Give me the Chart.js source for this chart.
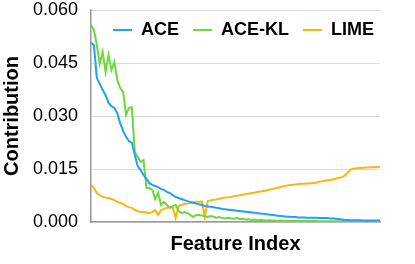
<!DOCTYPE html>
<html>
<head>
<meta charset="utf-8">
<script src="https://cdn.jsdelivr.net/npm/chart.js@4/dist/chart.umd.min.js"></script>
<style>
  html, body { margin: 0; padding: 0; background: #fff; }
  #wrap { width: 415px; height: 264px; position: relative; }
</style>
</head>
<body>
<div id="wrap"><canvas id="chart"></canvas></div>
<script>
const FEATURE_COUNT = 100;
const featureIndex = Array.from({ length: FEATURE_COUNT }, (_, i) => i + 1);

const yTicks = [0, 0.015, 0.03, 0.045, 0.06];

const ace = [
    0.0507, 0.0501, 0.0408, 0.0391, 0.0374, 0.0359, 0.0337, 0.0328, 0.0323, 0.0308,
    0.0280, 0.0258, 0.0241, 0.0229, 0.0224, 0.0190, 0.0158, 0.0147, 0.0133, 0.0122,
    0.0110, 0.0105, 0.0102, 0.0099, 0.0093, 0.0091, 0.0085, 0.0082, 0.0076, 0.0071,
    0.0068, 0.0065, 0.0062, 0.0059, 0.0057, 0.0055, 0.0052, 0.0050, 0.0048, 0.0045,
    0.0044, 0.0043, 0.0042, 0.0040, 0.0039, 0.0037, 0.0036, 0.0035, 0.0034, 0.0033,
    0.0032, 0.0031, 0.0030, 0.0029, 0.0028, 0.0027, 0.0026, 0.0025, 0.0024, 0.0023,
    0.0022, 0.0021, 0.0020, 0.0019, 0.0018, 0.0017, 0.0016, 0.0015, 0.0015, 0.0014,
    0.0014, 0.0013, 0.0013, 0.0013, 0.0012, 0.0012, 0.0012, 0.0012, 0.0011, 0.0011,
    0.0011, 0.0011, 0.0010, 0.0010, 0.0009, 0.0008, 0.0007, 0.0006, 0.0006, 0.0005,
    0.0005, 0.0005, 0.0005, 0.0004, 0.0004, 0.0004, 0.0004, 0.0004, 0.0004, 0.0004
];

const aceKl = [
    0.0558, 0.0543, 0.0501, 0.0447, 0.0481, 0.0425, 0.0473, 0.0430, 0.0453, 0.0402,
    0.0379, 0.0368, 0.0303, 0.0323, 0.0325, 0.0198, 0.0184, 0.0170, 0.0175, 0.0096,
    0.0096, 0.0091, 0.0065, 0.0082, 0.0048, 0.0057, 0.0048, 0.0040, 0.0045, 0.0048,
    0.0031, 0.0025, 0.0028, 0.0025, 0.0020, 0.0014, 0.0020, 0.0020, 0.0018, 0.0016,
    0.0014, 0.0017, 0.0015, 0.0012, 0.0014, 0.0011, 0.0010, 0.0012, 0.0010, 0.0009,
    0.0011, 0.0008, 0.0009, 0.0007, 0.0008, 0.0006, 0.0007, 0.0005, 0.0006, 0.0005,
    0.0004, 0.0005, 0.0004, 0.0004, 0.0003, 0.0004, 0.0003, 0.0003, 0.0003, 0.0003,
    0.0003, 0.0003, 0.0003, 0.0003, 0.0003, 0.0003, 0.0003, 0.0003, 0.0002, 0.0002,
    0.0002, 0.0002, 0.0002, 0.0002, 0.0002, 0.0002, 0.0002, 0.0002, 0.0002, 0.0002,
    0.0002, 0.0002, 0.0002, 0.0002, 0.0002, 0.0002, 0.0002, 0.0002, 0.0002, 0.0002
];

const lime = [
    0.0105, 0.0096, 0.0082, 0.0076, 0.0071, 0.0069, 0.0068, 0.0065, 0.0062, 0.0057,
    0.0054, 0.0051, 0.0045, 0.0042, 0.0040, 0.0034, 0.0031, 0.0028, 0.0028, 0.0027,
    0.0025, 0.0028, 0.0034, 0.0020, 0.0034, 0.0037, 0.0040, 0.0042, 0.0042, 0.0011,
    0.0045, 0.0048, 0.0051, 0.0052, 0.0054, 0.0054, 0.0057, 0.0057, 0.0057, 0.0014,
    0.0060, 0.0061, 0.0063, 0.0064, 0.0066, 0.0068, 0.0069, 0.0070, 0.0071, 0.0073,
    0.0074, 0.0076, 0.0077, 0.0079, 0.0080, 0.0082, 0.0083, 0.0085, 0.0086, 0.0088,
    0.0089, 0.0091, 0.0093, 0.0095, 0.0097, 0.0099, 0.0101, 0.0103, 0.0105, 0.0105,
    0.0106, 0.0107, 0.0108, 0.0108, 0.0109, 0.0110, 0.0110, 0.0111, 0.0113, 0.0115,
    0.0117, 0.0118, 0.0119, 0.0121, 0.0123, 0.0125, 0.0127, 0.0132, 0.0140, 0.0149,
    0.0151, 0.0152, 0.0153, 0.0153, 0.0154, 0.0154, 0.0155, 0.0155, 0.0156, 0.0156
];

const FONT = '"Liberation Sans", Arial, Helvetica, sans-serif';

// legend sits inside the plot, so it should take no room in the layout
const overlayLegend = {
    id: 'overlayLegend',
    beforeLayout(chart) {
        const legend = chart.legend;
        if (legend && !legend._flat) {
            const fit = legend.fit;
            legend.fit = function () {
                fit.call(this);
                this.height = 0;
            };
            legend._flat = true;
        }
    },
    afterLayout(chart) {
        const legend = chart.legend;
        legend.left = 99;
        legend.right = 400;
        legend.top = 7;
        legend.bottom = 60;
    }
};

function line(label, data, color) {
    return {
        label,
        data,
        borderColor: color,
        backgroundColor: color,
        borderWidth: 2,
        pointRadius: 0,
        tension: 0,
        fill: false
    };
}

const ctx = document.getElementById('chart').getContext('2d');
new Chart(ctx, {
    type: 'line',
    data: {
        labels: featureIndex,
        datasets: [
            line('ACE', ace, '#1ea1f7'),
            line('ACE-KL', aceKl, '#6bd93b'),
            line('LIME', lime, '#f7b70f')
        ]
    },
    options: {
        responsive: true,
        maintainAspectRatio: false,
        animation: false,
        layout: { padding: { left: 0, right: 35, top: 10, bottom: 0 } },
        plugins: {
            tooltip: { enabled: false },
            legend: {
                position: 'top',
                align: 'start',
                labels: {
                    boxWidth: 19,
                    boxHeight: 2,
                    padding: 14,
                    color: '#000',
                    font: { family: FONT, size: 18, weight: 'bold' },
                    generateLabels(chart) {
                        const items = Chart.defaults.plugins.legend.labels.generateLabels(chart);
                        items.forEach(it => {
                            it.lineWidth = 0;
                            it.fillStyle = it.strokeStyle;
                        });
                        return items;
                    }
                }
            }
        },
        scales: {
            x: {
                afterFit(scale) { scale.height = 42; },
                grid: { display: false },
                border: { display: true, color: '#999999', width: 1.5 },
                ticks: { display: false },
                title: {
                    display: true,
                    text: 'Feature Index',
                    color: '#000',
                    font: { family: FONT, size: 20, weight: 'bold' },
                    padding: { top: 0, bottom: 8 }
                }
            },
            y: {
                min: 0,
                max: 0.06,
                afterFit(scale) {
                    scale.width = 91;
                    scale.paddingTop = 0;
                    scale.paddingBottom = 0;
                },
                afterBuildTicks(scale) {
                    scale.ticks = yTicks.map(v => ({ value: v }));
                },
                grid: { color: '#dcdcdc', lineWidth: 1, drawTicks: false },
                border: { display: true, color: '#999999', width: 1.5 },
                ticks: {
                    padding: 13,
                    color: '#000',
                    font: { family: FONT, size: 18 },
                    callback: v => Number(v).toFixed(3)
                },
                title: {
                    display: true,
                    text: 'Contribution',
                    color: '#000',
                    font: { family: FONT, size: 20, weight: 'bold' },
                    padding: { top: 0, bottom: 0 }
                }
            }
        }
    },
    plugins: [overlayLegend]
});
</script>
</body>
</html>
